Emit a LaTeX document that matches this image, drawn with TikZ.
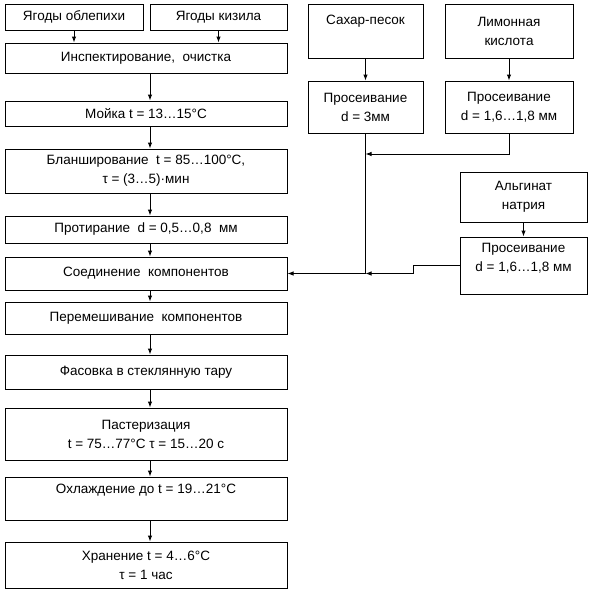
\documentclass[tikz,border=0pt]{standalone}
\usepackage{fontspec}
\setmainfont{Liberation Sans}
\usetikzlibrary{arrows.meta}
\begin{document}
\begin{tikzpicture}[x=1pt,y=-1pt,
  box/.style={draw, line width=1pt, inner sep=0pt, align=center,
    font=\fontsize{13.5}{19}\selectfont},
  arr/.style={line width=1pt, -{Latex[length=6pt,width=4.5pt]}},
  ln/.style={line width=1pt}]
\useasboundingbox[fill=white] (0,0) rectangle (592,592);
% left column
\node[box, minimum width=138pt, minimum height=26pt] (obl) at (74,17) {Ягоды облепихи};
\node[box, minimum width=137pt, minimum height=26pt] (kiz) at (218.5,17) {Ягоды кизила};
\node[box, minimum width=282pt, minimum height=30pt] (insp) at (146,58) {Инспектирование, \ очистка};
\node[box, minimum width=282pt, minimum height=25pt] (moyka) at (146,113.5) {Мойка t = 13…15°C};
\node[box, minimum width=282pt, minimum height=44pt] (blansh) at (146,171) {Бланширование \ t = 85…100°C,\\τ = (3…5)·мин};
\node[box, minimum width=282pt, minimum height=27pt] (prot) at (146,229.5) {Протирание \ d = 0,5…0,8 \ мм};
\node[box, minimum width=282pt, minimum height=33pt] (soed) at (146,273.5) {Соединение \ компонентов};
\node[box, minimum width=282pt, minimum height=32pt] (perem) at (146,318) {Перемешивание \ компонентов};
\node[box, minimum width=282pt, minimum height=34pt] (fas) at (146,372) {Фасовка в стеклянную тару};
\node[box, minimum width=282pt, minimum height=52pt] (past) at (146,434) {Пастеризация\\t = 75…77°C τ = 15…20 с};
\node[box, minimum width=282pt, minimum height=43pt] (ohl) at (146,498.5) {Охлаждение до t = 19…21°C\\[-6pt]\strut};
\node[box, minimum width=282pt, minimum height=46pt] (hran) at (146,565) {Хранение t = 4…6°C\\τ = 1 час};
% right column
\node[box, minimum width=115pt, minimum height=54pt] (sah) at (365.5,31) {Сахар-песок\\[-2pt]\strut};
\node[box, minimum width=128pt, minimum height=54pt] (lim) at (509,31) {Лимонная\\кислота};
\node[box, minimum width=115pt, minimum height=52pt] (pros1) at (365.5,107) {Просеивание\\d = 3мм};
\node[box, minimum width=128pt, minimum height=52pt] (pros2) at (509,107) {Просеивание\\d = 1,6…1,8 мм};
\node[box, minimum width=127pt, minimum height=50pt] (alg) at (523.5,197) {Альгинат\\натрия};
\node[box, minimum width=127pt, minimum height=57pt] (pros3) at (523.5,265.5) {Просеивание\\d = 1,6…1,8 мм\\[-8pt]\strut};
% helper coordinates
\coordinate (mx) at (150,0);
\coordinate (lk) at (0,154);
\coordinate (bend) at (413,0);
% main arrows
\draw[arr] (obl.south) -- (insp.north -| obl.south);
\draw[arr] (kiz.south) -- (insp.north -| kiz.south);
\draw[arr] (insp.south -| mx) -- (moyka.north -| mx);
\draw[arr] (moyka.south -| mx) -- (blansh.north -| mx);
\draw[arr] (blansh.south -| mx) -- (prot.north -| mx);
\draw[arr] (prot.south -| mx) -- (soed.north -| mx);
\draw[arr] (soed.south -| mx) -- (perem.north -| mx);
\draw[arr] (perem.south -| mx) -- (fas.north -| mx);
\draw[arr] (fas.south -| mx) -- (past.north -| mx);
\draw[arr] (past.south -| mx) -- (ohl.north -| mx);
\draw[arr] (ohl.south -| mx) -- (hran.north -| mx);
% right arrows
\draw[arr] (sah.south) -- (pros1.north);
\draw[arr] (lim.south) -- (pros2.north);
\draw[arr] (alg.south) -- (pros3.north);
\draw[ln] (pros1.south) -- (pros1.south |- soed.east);
\draw[arr] (pros2.south) |- (pros1.south |- lk);
\draw[arr] (pros3.west) -- (bend |- pros3.west) -- (bend |- soed.east) -- (pros1.south |- soed.east);
\draw[arr] (pros1.south |- soed.east) -- (soed.east);
\end{tikzpicture}
\end{document}
